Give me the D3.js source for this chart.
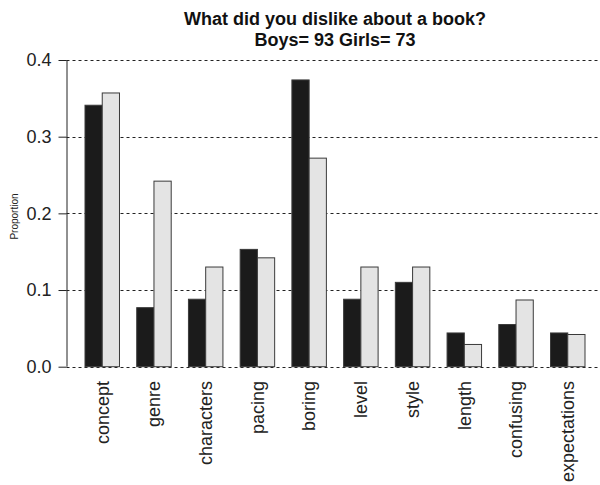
<!DOCTYPE html>
<html>
<head>
<meta charset="utf-8">
<script src="https://cdn.jsdelivr.net/npm/d3@7"></script>
<style>
  html, body { margin: 0; padding: 0; background: #fff; }
  svg { display: block; font-family: "Liberation Sans", Arial, Helvetica, sans-serif; }
</style>
</head>
<body>
<svg id="chart" width="600" height="485"></svg>
<script>
const categories = ["concept","genre","characters","pacing","boring","level","style","length","confusing","expectations"];
const boys  = [0.341, 0.077, 0.088, 0.153, 0.374, 0.088, 0.110, 0.044, 0.055, 0.044];
const girls = [0.357, 0.242, 0.130, 0.142, 0.272, 0.130, 0.130, 0.029, 0.087, 0.042];
const seriesNames = ["Boys", "Girls"];
const yTicks = [0, 0.1, 0.2, 0.3, 0.4];
const titleLines = ["What did you dislike about a book?", "Boys= 93 Girls= 73"];
const yLabel = "Proportion";

const svg = d3.select("#chart");
const axisX = 66.5, gridRight = 600;

const x0 = d3.scaleBand().domain(categories).range([85, 585]).paddingInner(1/3).paddingOuter(0);
const x1 = d3.scaleBand().domain(seriesNames).range([0, x0.bandwidth()]).padding(0);
const y = d3.scaleLinear().domain([0, 0.4]).range([366.7, 60]);
const fill = d3.scaleOrdinal().domain(seriesNames).range(["#1b1b1b", "#e4e4e4"]);

// grid lines
svg.append("g").selectAll("line").data(yTicks).join("line")
  .attr("x1", axisX).attr("x2", gridRight)
  .attr("y1", d => Math.round(y(d)) + 0.5).attr("y2", d => Math.round(y(d)) + 0.5)
  .attr("stroke", "#222").attr("stroke-width", 1).attr("stroke-dasharray", "3,3");

// bars
const rows = categories.map((c, i) => ({cat: c, vals: [{s: "Boys", v: boys[i]}, {s: "Girls", v: girls[i]}]}));
const g = svg.append("g").selectAll("g").data(rows).join("g")
  .attr("transform", d => `translate(${x0(d.cat)},0)`);
g.selectAll("rect").data(d => d.vals).join("rect")
  .attr("x", d => x1(d.s))
  .attr("y", d => y(d.v))
  .attr("width", x1.bandwidth())
  .attr("height", d => y(0) - y(d.v))
  .attr("fill", d => fill(d.s))
  .attr("stroke", "#3a3a3a").attr("stroke-width", 1);

// y axis
const yAxis = d3.axisLeft(y).tickValues(yTicks).tickFormat(d3.format(".1f")).tickSize(8).tickPadding(7);
const ya = svg.append("g").attr("transform", `translate(${axisX},0)`).call(yAxis);
ya.select(".domain").attr("d", `M0.5,${y(0)}V${y(0.4)}`).attr("stroke", "#222");
ya.selectAll(".tick line").attr("stroke", "#222");
ya.selectAll(".tick text").attr("font-size", 18).attr("fill", "#222")
  .attr("font-family", "Liberation Sans, Arial, sans-serif");

// x labels
svg.append("g").selectAll("text").data(categories).join("text")
  .attr("transform", d => `translate(${x0(d) + x0.bandwidth()/2},381) rotate(-90)`)
  .attr("text-anchor", "end").attr("dy", "0.35em")
  .attr("font-size", 18).attr("fill", "#222")
  .text(d => d);

// y label
svg.append("text")
  .attr("transform", "translate(18,216.5) rotate(-90)")
  .attr("text-anchor", "middle").attr("font-size", 10).attr("fill", "#222")
  .text(yLabel);

// title
svg.append("g").selectAll("text").data(titleLines).join("text")
  .attr("x", 335).attr("y", (d, i) => 24.5 + i * 21.5)
  .attr("text-anchor", "middle").attr("font-size", 18).attr("font-weight", "bold").attr("fill", "#111")
  .text(d => d);
</script>
</body>
</html>
